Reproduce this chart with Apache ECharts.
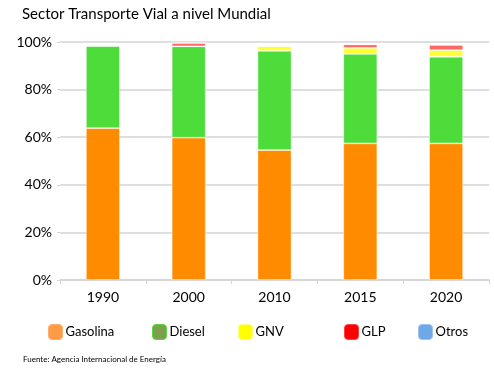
<!DOCTYPE html>
<html><head><meta charset="utf-8">
<script src="https://cdn.jsdelivr.net/npm/echarts@6/dist/echarts.min.js"></script>
<style>html,body{margin:0;padding:0;background:#fff}#c{width:494px;height:376px}</style>
</head><body><div id="c"></div>
<script>
const categories = ['1990','2000','2010','2015','2020'];
const gasolina = [63.8, 59.8, 54.6, 57.4, 57.4];
const diesel   = [34.6, 38.4, 41.7, 37.6, 36.4];
const gnv      = [0,    0,    2.0,  2.5,  2.8];
const glp      = [0,    1.4,  0,    1.5,  2.2];
const otros    = [0,    0,    0,    0,    0];
const yTicks = [0, 20, 40, 60, 80, 100];

const seriesNames = ['Gasolina','Diesel','GNV','GLP','Otros'];
const seriesData = [gasolina, diesel, gnv, glp, otros];
const barColors = ['#FF8C00','#4EDC3A','#FFFF33','#FF6666','#6FA8E8'];
const legendColors = ['#FF9A45','#7AA24A','#FFFF00','#FF0000','#6FA8E8'];
const legendBorders = ['#FFB070','#5CD44A','#FFFF80','#FF4040','#9CC4F0'];
const legendLefts = [48, 152, 238, 344, 418];

const chart = echarts.init(document.getElementById('c'), null, {renderer:'canvas'});
const font = 'Lato, "Open Sans", sans-serif';
chart.setOption({
  animation: false,
  title: [{
    text: 'Sector Transporte Vial a nivel Mundial',
    left: 17, top: 2,
    textStyle: {fontFamily: font, fontSize: 15, fontWeight: 'normal', color: '#000'}
  },{
    text: 'Fuente: Agencia Internacional de Energía',
    left: 18, top: 350,
    textStyle: {fontFamily: font, fontSize: 8, fontWeight: 'normal', color: '#000'}
  }],
  legend: seriesNames.map((n, i) => ({
    data: [{name: n, itemStyle: {color: legendColors[i], borderColor: legendBorders[i], borderWidth: 1}}],
    left: legendLefts[i], top: 324, padding: 0,
    itemWidth: 14, itemHeight: 15, itemGap: 4,
    icon: 'roundRect',
    textStyle: {fontFamily: font, fontSize: 13, color: '#000', padding: [0,0,0,-2]},
    selectedMode: false
  })),
  grid: {left: 60, right: 5, top: 42, bottom: 96},
  xAxis: {
    type: 'category', data: categories,
    axisLine: {lineStyle: {color: '#d4d4d4', width: 1.5}},
    axisTick: {show: true, length: 4, lineStyle: {color: '#d4d4d4'}},
    axisLabel: {fontFamily: font, fontSize: 14, color: '#000', margin: 10}
  },
  yAxis: {
    type: 'value', min: 0, max: 100, interval: 20,
    axisLine: {show: false},
    axisTick: {show: true, length: 3, lineStyle: {color: '#d4d4d4'}},
    splitLine: {lineStyle: {color: '#d4d4d4', width: 1.5}},
    axisLabel: {fontFamily: font, fontSize: 14, color: '#000', margin: 8,
      formatter: v => yTicks.includes(v) ? v + '%' : ''}
  },
  series: seriesNames.map((n, i) => ({
    name: n, type: 'bar', stack: 'total', data: seriesData[i],
    barWidth: 34,
    itemStyle: {color: barColors[i], borderColor: 'rgba(255,255,255,0.55)', borderWidth: 0.8}
  }))
});
</script></body></html>
